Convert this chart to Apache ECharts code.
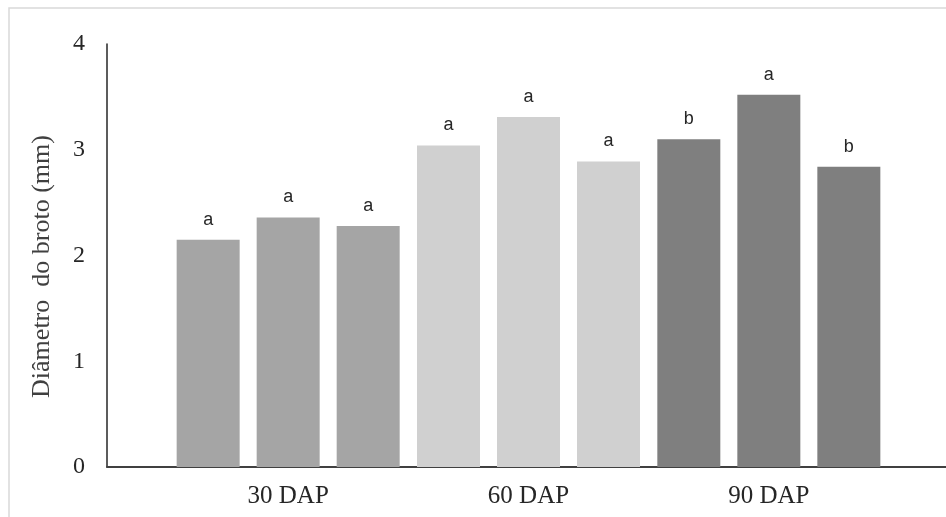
<!DOCTYPE html>
<html>
<head>
<meta charset="utf-8">
<script src="https://cdn.jsdelivr.net/npm/echarts@6/dist/echarts.min.js"></script>
<style>html,body{margin:0;padding:0;background:#fff}#c{width:946px;height:517px}</style>
</head>
<body>
<div id="c"></div>
<script>
const categories = ['30 DAP', '60 DAP', '90 DAP'];
const serie1 = [2.15, 3.04, 3.10];
const serie2 = [2.36, 3.31, 3.52];
const serie3 = [2.28, 2.89, 2.84];
const letras1 = ['a', 'a', 'b'];
const letras2 = ['a', 'a', 'a'];
const letras3 = ['a', 'a', 'b'];
const groupColors = ['#a5a5a5', '#d0d0d0', '#7f7f7f'];
const yTicks = [0, 1, 2, 3, 4];

const chart = echarts.init(document.getElementById('c'));
function mk(values, letters) {
  return {
    type: 'bar',
    xAxisIndex: 0, yAxisIndex: 0,
    barWidth: 63,
    barGap: '27%',
    data: values.map((v, i) => ({ value: v, itemStyle: { color: groupColors[i] } })),
    label: {
      show: true, position: 'top', distance: 11,
      formatter: p => letters[p.dataIndex],
      fontFamily: 'Liberation Sans', fontSize: 18, color: '#262626'
    },
    silent: true
  };
}
chart.setOption({
  animation: false,
  graphic: [{ type: 'rect', shape: { x: 9, y: 8, width: 960, height: 540 }, style: { fill: 'none', stroke: '#d9d9d9', lineWidth: 1.5 }, silent: true }],
  grid: [
    { left: 168, right: 57, top: 44, bottom: 50 },
    { left: 107, right: 0, top: 44, bottom: 50 }
  ],
  xAxis: [
    {
      type: 'category', gridIndex: 0, data: categories,
      axisLine: { show: false }, axisTick: { show: false },
      axisLabel: { fontFamily: 'Liberation Serif', fontSize: 25, color: '#262626', margin: 17 }
    },
    {
      type: 'value', gridIndex: 1, min: 0, max: 1,
      axisLine: { show: true, lineStyle: { color: '#404040', width: 2 } },
      axisTick: { show: false }, axisLabel: { show: false }, splitLine: { show: false }
    }
  ],
  yAxis: [
    {
      type: 'value', gridIndex: 0, min: yTicks[0], max: yTicks[yTicks.length - 1], interval: 1,
      offset: 61,
      name: 'Diâmetro  do broto (mm)', nameLocation: 'middle', nameGap: 52,
      nameTextStyle: { fontFamily: 'Liberation Serif', fontSize: 26, color: '#404040', padding: [0, 22, 0, 0] },
      axisLine: { show: true, lineStyle: { color: '#262626', width: 1.5 } },
      axisTick: { show: false },
      axisLabel: { fontFamily: 'Liberation Serif', fontSize: 24, color: '#262626', margin: 22 },
      splitLine: { show: false }
    },
    { type: 'value', gridIndex: 1, show: false, min: 0, max: 1 }
  ],
  series: [mk(serie1, letras1), mk(serie2, letras2), mk(serie3, letras3)]
});
</script>
</body>
</html>
